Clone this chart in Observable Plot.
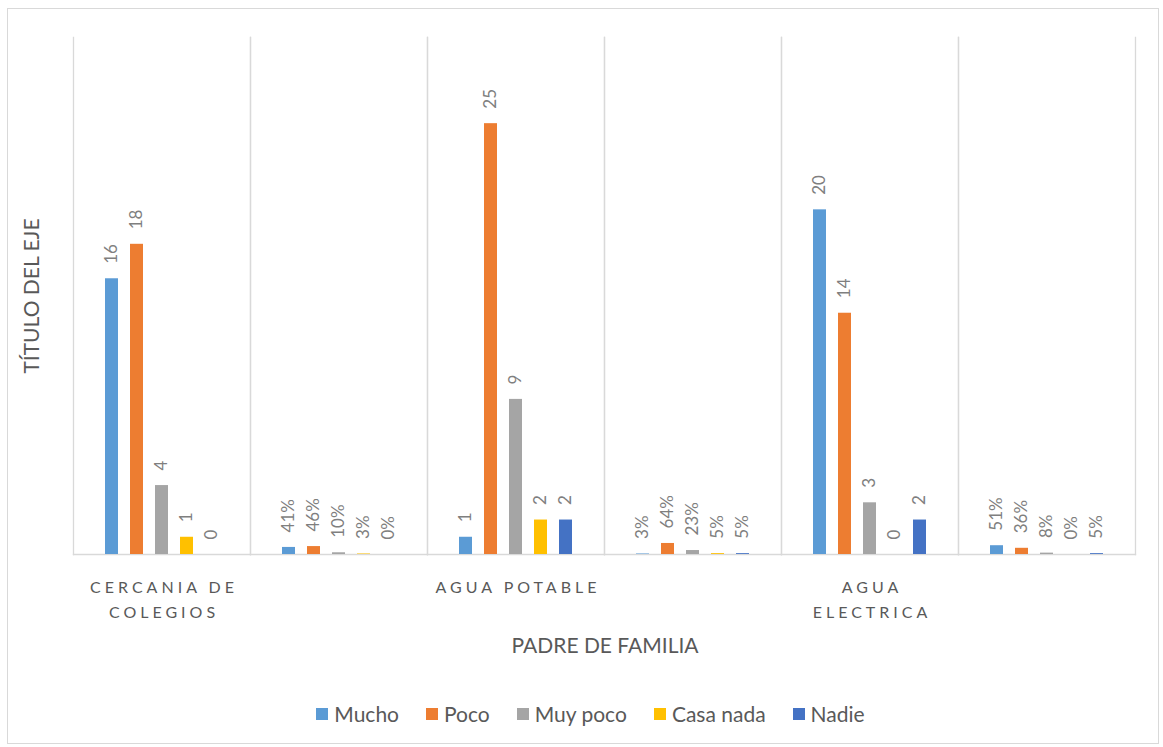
<!DOCTYPE html>
<html>
<head>
<meta charset="utf-8">
<script src="https://cdn.jsdelivr.net/npm/d3@7"></script>
<script src="https://cdn.jsdelivr.net/npm/@observablehq/plot@0.6"></script>
<style>
  html, body { margin: 0; padding: 0; background: #fff; }
  #wrap { position: relative; width: 1163px; height: 747px; overflow: hidden; font-family: Lato, "Open Sans", sans-serif; color: #595959; }
  #border { position: absolute; left: 7px; top: 8px; width: 1152px; height: 736px; border: 1px solid #d9d9d9; box-sizing: border-box; }
  #chart { position: absolute; left: 0; top: 0; }
  #ytitle { position: absolute; left: 30px; top: 296px; transform: translate(-50%, -50%) rotate(-90deg); white-space: nowrap; font-size: 21px; }
  #xtitle { position: absolute; left: 605px; top: 632px; transform: translateX(-50%); white-space: nowrap; font-size: 21px; line-height: 26px; }
  #legend { position: absolute; left: 0; top: 701px; width: 1163px; display: flex; justify-content: center; gap: 27px; font-size: 21px; line-height: 26px; padding-left: 18px; box-sizing: border-box; }
  #legend .item { display: flex; align-items: center; gap: 6px; }
  #legend .sw { width: 12px; height: 12px; display: inline-block; }
  g[aria-label="fx-axis tick label"] text { letter-spacing: 4px; }
</style>
</head>
<body>
<div id="wrap">
  <div id="border"></div>
  <div id="chart"></div>
  <div id="ytitle">TÍTULO DEL EJE</div>
  <div id="xtitle">PADRE DE FAMILIA</div>
  <div id="legend"></div>
</div>
<script>
// ---- data ----
const groups = ["g1", "g2", "g3", "g4", "g5", "g6"];
const groupLabels = ["CERCANIA DE\nCOLEGIOS", "", "AGUA POTABLE", "", "AGUA\nELECTRICA", ""];
const series = ["Mucho", "Poco", "Muy poco", "Casa nada", "Nadie"];
const colors = ["#5B9BD5", "#ED7D31", "#A5A5A5", "#FFC000", "#4472C4"];
const cercaniaCounts = [16, 18, 4, 1, 0];
const cercaniaPct = [0.41, 0.46, 0.10, 0.03, 0.00];
const potableCounts = [1, 25, 9, 2, 2];
const potablePct = [0.03, 0.64, 0.23, 0.05, 0.05];
const electricaCounts = [20, 14, 3, 0, 2];
const electricaPct = [0.51, 0.36, 0.08, 0.00, 0.05];
const isPercent = [false, true, false, true, false, true];

const groupValues = [cercaniaCounts, cercaniaPct, potableCounts, potablePct, electricaCounts, electricaPct];
const table = [];
groups.forEach((g, gi) => series.forEach((s, si) => {
  table.push({group: g, series: s, value: groupValues[gi][si], pct: isPercent[gi]});
}));
const fmtPct = d3.format(".0%");

const grid = {stroke: "#d9d9d9", strokeWidth: 1.3};

const chart = Plot.plot({
  width: 1163,
  height: 640,
  marginTop: 37,
  marginBottom: 86,
  marginLeft: 72,
  marginRight: 27,
  style: {fontFamily: "Lato, 'Open Sans', sans-serif", background: "transparent", overflow: "visible"},
  fx: {domain: groups, padding: 0, label: null},
  x: {domain: series, paddingInner: 0.49, paddingOuter: 1.16, axis: null},
  y: {domain: [0, 30], axis: null},
  color: {domain: series, range: colors},
  marks: [
    Plot.frame({anchor: "left", ...grid}),
    Plot.frame({anchor: "right", ...grid}),
    Plot.frame({anchor: "bottom", ...grid}),
    Plot.barY(table, {fx: "group", x: "series", y: "value", fill: "series"}),
    Plot.text(table, {
      fx: "group", x: "series", y: "value",
      text: d => d.pct ? fmtPct(d.value) : String(d.value),
      rotate: -90, textAnchor: "start", dy: -15,
      fontSize: 17, fill: "#7f7f7f"
    }),
    Plot.axisFx({
      anchor: "bottom", tickSize: 0, tickPadding: 21, fontSize: 16, lineHeight: 1.56,
      fill: "#595959", label: null, dx: 2,
      tickFormat: d => groupLabels[groups.indexOf(d)]
    })
  ]
});
document.getElementById("chart").appendChild(chart);

const legend = document.getElementById("legend");
series.forEach((s, i) => {
  const item = document.createElement("div");
  item.className = "item";
  const sw = document.createElement("span");
  sw.className = "sw";
  sw.style.background = colors[i];
  const t = document.createElement("span");
  t.textContent = s;
  item.appendChild(sw);
  item.appendChild(t);
  legend.appendChild(item);
});
</script>
</body>
</html>
